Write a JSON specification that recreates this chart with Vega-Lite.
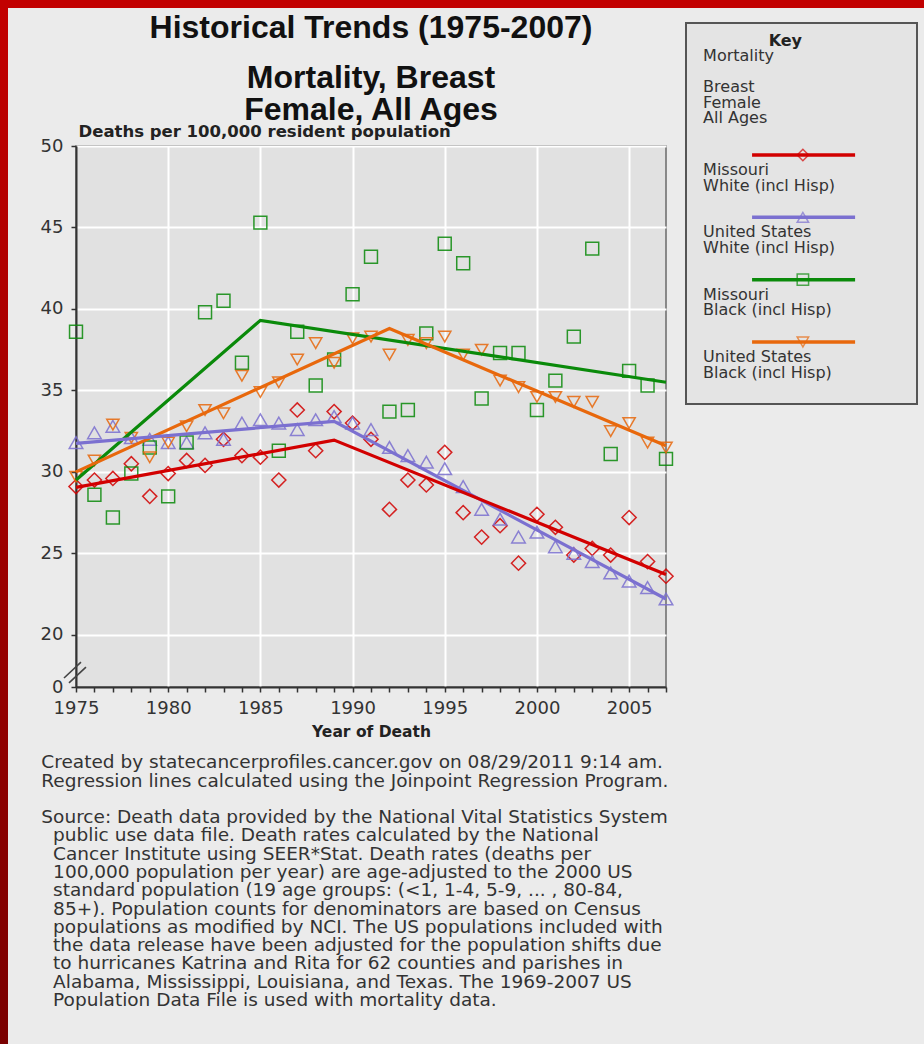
{
  "$schema": "https://vega.github.io/schema/vega-lite/v6.json",
  "background": "#ebebeb",
  "padding": 0,
  "spacing": 0,
  "config": {
    "font": "DejaVu Sans",
    "view": {"stroke": null},
    "axis": {
      "domainColor": "#333333", "domainWidth": 2,
      "tickColor": "#333333", "tickWidth": 1.5, "tickSize": 5,
      "labelColor": "#333333", "labelFont": "DejaVu Sans", "labelFontSize": 18,
      "gridColor": "#ffffff", "gridWidth": 2,
      "titleFont": "DejaVu Sans", "titleFontWeight": "bold", "titleColor": "#222222"
    }
  },
  "datasets": {
    "rates": [
      {"year": 1975, "MW": 29.1, "UW": 31.8, "MB": 38.6, "UB": 29.7},
      {"year": 1976, "MW": 29.5, "UW": 32.4, "MB": 28.6, "UB": 30.7},
      {"year": 1977, "MW": 29.6, "UW": 32.8, "MB": 27.2, "UB": 32.9},
      {"year": 1978, "MW": 30.5, "UW": 32.1, "MB": 29.9, "UB": 32.1},
      {"year": 1979, "MW": 28.5, "UW": 32.0, "MB": 31.5, "UB": 30.9},
      {"year": 1980, "MW": 29.9, "UW": 31.8, "MB": 28.5, "UB": 31.8},
      {"year": 1981, "MW": 30.7, "UW": 31.8, "MB": 31.8, "UB": 32.8},
      {"year": 1982, "MW": 30.4, "UW": 32.4, "MB": 39.8, "UB": 33.8},
      {"year": 1983, "MW": 32.0, "UW": 32.0, "MB": 40.5, "UB": 33.6},
      {"year": 1984, "MW": 31.0, "UW": 33.0, "MB": 36.7, "UB": 35.9},
      {"year": 1985, "MW": 30.9, "UW": 33.2, "MB": 45.3, "UB": 34.9},
      {"year": 1986, "MW": 29.5, "UW": 33.0, "MB": 31.3, "UB": 35.5},
      {"year": 1987, "MW": 33.8, "UW": 32.6, "MB": 38.6, "UB": 36.9},
      {"year": 1988, "MW": 31.3, "UW": 33.2, "MB": 35.3, "UB": 37.9},
      {"year": 1989, "MW": 33.7, "UW": 33.4, "MB": 36.9, "UB": 36.7},
      {"year": 1990, "MW": 33.0, "UW": 33.0, "MB": 40.9, "UB": 38.2},
      {"year": 1991, "MW": 32.0, "UW": 32.6, "MB": 43.2, "UB": 38.3},
      {"year": 1992, "MW": 27.7, "UW": 31.5, "MB": 33.7, "UB": 37.2},
      {"year": 1993, "MW": 29.5, "UW": 31.0, "MB": 33.8, "UB": 38.1},
      {"year": 1994, "MW": 29.2, "UW": 30.6, "MB": 38.5, "UB": 37.9},
      {"year": 1995, "MW": 31.2, "UW": 30.2, "MB": 44.0, "UB": 38.3},
      {"year": 1996, "MW": 27.5, "UW": 29.1, "MB": 42.8, "UB": 37.2},
      {"year": 1997, "MW": 26.0, "UW": 27.7, "MB": 34.5, "UB": 37.5},
      {"year": 1998, "MW": 26.7, "UW": 27.1, "MB": 37.3, "UB": 35.6},
      {"year": 1999, "MW": 24.4, "UW": 26.0, "MB": 37.3, "UB": 35.2},
      {"year": 2000, "MW": 27.4, "UW": 26.3, "MB": 33.8, "UB": 34.6},
      {"year": 2001, "MW": 26.6, "UW": 25.4, "MB": 35.6, "UB": 34.6},
      {"year": 2002, "MW": 24.9, "UW": 25.0, "MB": 38.3, "UB": 34.3},
      {"year": 2003, "MW": 25.3, "UW": 24.5, "MB": 43.7, "UB": 34.3},
      {"year": 2004, "MW": 24.9, "UW": 23.8, "MB": 31.1, "UB": 32.5},
      {"year": 2005, "MW": 27.2, "UW": 23.3, "MB": 36.2, "UB": 33.0},
      {"year": 2006, "MW": 24.5, "UW": 22.9, "MB": 35.3, "UB": 31.8},
      {"year": 2007, "MW": 23.6, "UW": 22.2, "MB": 30.8, "UB": 31.5}
    ],
    "fits": [
      {"series": "MB", "year": 1975, "rate": 29.5},
      {"series": "MB", "year": 1985, "rate": 39.3},
      {"series": "MB", "year": 2007, "rate": 35.5},
      {"series": "UB", "year": 1975, "rate": 30.0},
      {"series": "UB", "year": 1992, "rate": 38.8},
      {"series": "UB", "year": 2007, "rate": 31.6},
      {"series": "UW", "year": 1975, "rate": 31.75},
      {"series": "UW", "year": 1989, "rate": 33.1},
      {"series": "UW", "year": 2007, "rate": 22.2},
      {"series": "MW", "year": 1975, "rate": 29.05},
      {"series": "MW", "year": 1989, "rate": 31.95},
      {"series": "MW", "year": 2007, "rate": 23.7}
    ],
    "legend": [
      {"series": "MW", "label": "Missouri\nWhite (incl Hisp)"},
      {"series": "UW", "label": "United States\nWhite (incl Hisp)"},
      {"series": "MB", "label": "Missouri\nBlack (incl Hisp)"},
      {"series": "UB", "label": "United States\nBlack (incl Hisp)"}
    ]
  },
  "vconcat": [
    {
      "width": 924, "height": 8,
      "view": {"fill": "#c20000", "stroke": null},
      "data": {"values": [{}]},
      "mark": {"type": "text", "text": " ", "fontSize": 0},
      "encoding": {}
    },
    {
      "spacing": 31,
      "hconcat": [
        {
          "width": 8, "height": 1036,
          "view": {"fill": {"gradient": "linear", "x1": 0, "y1": 0, "x2": 0, "y2": 1, "stops": [{"offset": 0, "color": "#c20000"}, {"offset": 1, "color": "#7a0000"}]}, "stroke": null},
          "data": {"values": [{}]},
          "mark": {"type": "text", "text": " ", "fontSize": 0},
          "encoding": {}
        },
        {
          "spacing": 8,
          "title": {
            "text": [
              "Created by statecancerprofiles.cancer.gov on 08/29/2011 9:14 am.",
              "Regression lines calculated using the Joinpoint Regression Program."
            ],
            "subtitle": [
              "Source: Death data provided by the National Vital Statistics System",
              "\u200b\u2007public use data file. Death rates calculated by the National",
              "\u200b\u2007Cancer Institute using SEER*Stat. Death rates (deaths per",
              "\u200b\u2007100,000 population per year) are age-adjusted to the 2000 US",
              "\u200b\u2007standard population (19 age groups: (<1, 1-4, 5-9, ... , 80-84,",
              "\u200b\u200785+). Population counts for denominators are based on Census",
              "\u200b\u2007populations as modified by NCI. The US populations included with",
              "\u200b\u2007the data release have been adjusted for the population shifts due",
              "\u200b\u2007to hurricanes Katrina and Rita for 62 counties and parishes in",
              "\u200b\u2007Alabama, Mississippi, Louisiana, and Texas. The 1969-2007 US",
              "\u200b\u2007Population Data File is used with mortality data."
            ],
            "orient": "bottom", "anchor": "start", "dx": 2, "offset": 13,
            "font": "DejaVu Sans", "fontSize": 18.5, "fontWeight": "normal",
            "lineHeight": 18.3, "color": "#333333",
            "subtitleFont": "DejaVu Sans", "subtitleFontSize": 18.5, "subtitleFontWeight": "normal",
            "subtitleLineHeight": 18.3, "subtitleColor": "#333333", "subtitlePadding": 18
          },
          "hconcat": [
            {
              "spacing": -4,
              "vconcat": [
                {
                  "width": 590, "height": 1,
                  "view": {"fill": null, "stroke": null},
                  "data": {"values": [{}]},
                  "mark": {"type": "text", "text": " ", "fontSize": 0, "baseline": "top"},
                  "encoding": {},
                  "title": {
                    "text": "Historical Trends (1975-2007)",
                    "subtitle": ["Mortality, Breast", "Female, All Ages"],
                    "orient": "bottom", "anchor": "middle", "offset": 4,
                    "font": "Liberation Sans", "fontSize": 32, "fontWeight": "bold", "lineHeight": 32, "color": "#111111",
                    "subtitleFont": "Liberation Sans", "subtitleFontSize": 32, "subtitleFontWeight": "bold",
                    "subtitleLineHeight": 32, "subtitlePadding": 18, "subtitleColor": "#111111"
                  }
                },
                {
                  "width": 590, "height": 541,
                  "view": {"fill": "#e1e1e1", "stroke": "#6a6a6a", "strokeWidth": 1.5},
                  "layer": [
                    {
                      "data": {"name": "rates"},
                      "transform": [{"fold": ["MW", "UW", "MB", "UB"], "as": ["series", "rate"]}],
                      "mark": {"type": "point", "filled": false, "strokeWidth": 1.5, "opacity": 0.85},
                      "encoding": {
                        "x": {"field": "year", "type": "quantitative",
                          "scale": {"domain": [1975, 2007], "nice": false, "zero": false},
                          "axis": {"values": [1975, 1976, 1977, 1978, 1979, 1980, 1981, 1982, 1983, 1984, 1985, 1986, 1987, 1988, 1989, 1990, 1991, 1992, 1993, 1994, 1995, 1996, 1997, 1998, 1999, 2000, 2001, 2002, 2003, 2004, 2005, 2006, 2007], "format": "d", "labelExpr": "datum.value % 5 === 0 ? datum.label : ''", "labelFlush": false, "labelDx": 6, "labelPadding": 7, "gridOpacity": {"condition": {"test": "datum.value % 5 === 0 && datum.value > 1975", "value": 1}, "value": 0}, "title": "Year of Death", "titleFontSize": 15.5, "titlePadding": 7}},
                        "y": {"field": "rate", "type": "quantitative",
                          "scale": {"domain": [16.8, 50], "nice": false, "zero": false},
                          "axis": {"values": [16.8, 20, 25, 30, 35, 40, 45, 50], "labelExpr": "datum.value < 18 ? '0' : format(datum.value, 'd')", "labelPadding": 8, "gridOpacity": {"condition": {"test": "datum.value >= 20", "value": 1}, "value": 0}, "title": "Deaths per 100,000 resident population", "titleAngle": 0, "titleAlign": "left", "titleBaseline": "alphabetic", "titleX": 2, "titleY": -10, "titleFontSize": 16.5}},
                        "color": {"field": "series", "type": "nominal", "legend": null,
                          "scale": {"domain": ["MW", "UW", "MB", "UB"], "range": ["#d20000", "#7b70d0", "#0a8a0a", "#e8680c"]}},
                        "shape": {"field": "series", "type": "nominal", "legend": null,
                          "scale": {"domain": ["MW", "UW", "MB", "UB"], "range": ["diamond", "triangle-up", "square", "triangle-down"]}},
                        "size": {"field": "series", "type": "nominal", "legend": null,
                          "scale": {"domain": ["MW", "UW", "MB", "UB"], "range": [200, 150, 140, 150]}}
                      }
                    },
                    {
                      "data": {"name": "fits"},
                      "mark": {"type": "line", "strokeWidth": 3.2},
                      "encoding": {
                        "x": {"field": "year", "type": "quantitative",
                          "scale": {"domain": [1975, 2007], "nice": false, "zero": false},
                          "axis": {"values": [1975, 1976, 1977, 1978, 1979, 1980, 1981, 1982, 1983, 1984, 1985, 1986, 1987, 1988, 1989, 1990, 1991, 1992, 1993, 1994, 1995, 1996, 1997, 1998, 1999, 2000, 2001, 2002, 2003, 2004, 2005, 2006, 2007], "format": "d", "labelExpr": "datum.value % 5 === 0 ? datum.label : ''", "labelFlush": false, "labelDx": 6, "labelPadding": 7, "gridOpacity": {"condition": {"test": "datum.value % 5 === 0 && datum.value > 1975", "value": 1}, "value": 0}, "title": "Year of Death", "titleFontSize": 15.5, "titlePadding": 7}},
                        "y": {"field": "rate", "type": "quantitative",
                          "scale": {"domain": [16.8, 50], "nice": false, "zero": false},
                          "axis": {"values": [16.8, 20, 25, 30, 35, 40, 45, 50], "labelExpr": "datum.value < 18 ? '0' : format(datum.value, 'd')", "labelPadding": 8, "gridOpacity": {"condition": {"test": "datum.value >= 20", "value": 1}, "value": 0}, "title": "Deaths per 100,000 resident population", "titleAngle": 0, "titleAlign": "left", "titleBaseline": "alphabetic", "titleX": 2, "titleY": -10, "titleFontSize": 16.5}},
                        "color": {"field": "series", "type": "nominal", "legend": null,
                          "scale": {"domain": ["MW", "UW", "MB", "UB"], "range": ["#d20000", "#7b70d0", "#0a8a0a", "#e8680c"]}}
                      }
                    },
                    {
                      "data": {"values": [{"k": "a"}]},
                      "mark": {"type": "rule", "strokeWidth": 1.6, "color": "#444444"},
                      "encoding": {
                        "x": {"datum": 1974.35, "type": "quantitative",
                          "scale": {"domain": [1975, 2007], "nice": false, "zero": false},
                          "axis": {"values": [1975, 1976, 1977, 1978, 1979, 1980, 1981, 1982, 1983, 1984, 1985, 1986, 1987, 1988, 1989, 1990, 1991, 1992, 1993, 1994, 1995, 1996, 1997, 1998, 1999, 2000, 2001, 2002, 2003, 2004, 2005, 2006, 2007], "format": "d", "labelExpr": "datum.value % 5 === 0 ? datum.label : ''", "labelFlush": false, "labelDx": 6, "labelPadding": 7, "gridOpacity": {"condition": {"test": "datum.value % 5 === 0 && datum.value > 1975", "value": 1}, "value": 0}, "title": "Year of Death", "titleFontSize": 15.5, "titlePadding": 7}},
                        "x2": {"datum": 1975.27},
                        "y": {"datum": 17.35, "type": "quantitative",
                          "scale": {"domain": [16.8, 50], "nice": false, "zero": false},
                          "axis": {"values": [16.8, 20, 25, 30, 35, 40, 45, 50], "labelExpr": "datum.value < 18 ? '0' : format(datum.value, 'd')", "labelPadding": 8, "gridOpacity": {"condition": {"test": "datum.value >= 20", "value": 1}, "value": 0}, "title": "Deaths per 100,000 resident population", "titleAngle": 0, "titleAlign": "left", "titleBaseline": "alphabetic", "titleX": 2, "titleY": -10, "titleFontSize": 16.5}},
                        "y2": {"datum": 18.33}
                      }
                    },
                    {
                      "data": {"values": [{"k": "b"}]},
                      "mark": {"type": "rule", "strokeWidth": 1.6, "color": "#444444"},
                      "encoding": {
                        "x": {"datum": 1974.62, "type": "quantitative",
                          "scale": {"domain": [1975, 2007], "nice": false, "zero": false},
                          "axis": {"values": [1975, 1976, 1977, 1978, 1979, 1980, 1981, 1982, 1983, 1984, 1985, 1986, 1987, 1988, 1989, 1990, 1991, 1992, 1993, 1994, 1995, 1996, 1997, 1998, 1999, 2000, 2001, 2002, 2003, 2004, 2005, 2006, 2007], "format": "d", "labelExpr": "datum.value % 5 === 0 ? datum.label : ''", "labelFlush": false, "labelDx": 6, "labelPadding": 7, "gridOpacity": {"condition": {"test": "datum.value % 5 === 0 && datum.value > 1975", "value": 1}, "value": 0}, "title": "Year of Death", "titleFontSize": 15.5, "titlePadding": 7}},
                        "x2": {"datum": 1975.54},
                        "y": {"datum": 17.05, "type": "quantitative",
                          "scale": {"domain": [16.8, 50], "nice": false, "zero": false},
                          "axis": {"values": [16.8, 20, 25, 30, 35, 40, 45, 50], "labelExpr": "datum.value < 18 ? '0' : format(datum.value, 'd')", "labelPadding": 8, "gridOpacity": {"condition": {"test": "datum.value >= 20", "value": 1}, "value": 0}, "title": "Deaths per 100,000 resident population", "titleAngle": 0, "titleAlign": "left", "titleBaseline": "alphabetic", "titleX": 2, "titleY": -10, "titleFontSize": 16.5}},
                        "y2": {"datum": 18.02}
                      }
                    }
                  ]
                }
              ]
            },
            {
              "spacing": 0,
              "vconcat": [
                {
                  "width": 231, "height": 14,
                  "view": {"fill": null, "stroke": null},
                  "data": {"values": [{}]},
                  "mark": {"type": "text", "text": " ", "fontSize": 0},
                  "encoding": {}
                },
                {
                  "width": 231, "height": 381,
                  "view": {"fill": "#e4e4e4", "stroke": "#555555", "strokeWidth": 2},
                  "data": {"name": "legend"},
                  "encoding": {
                    "y": {"field": "series", "type": "nominal",
                      "scale": {"type": "point", "domain": ["MW", "UW", "MB", "UB"], "range": [132, 319], "padding": 0},
                      "axis": null}
                  },
                  "layer": [
                    {
                      "mark": {"type": "rule", "strokeWidth": 3.5},
                      "encoding": {
                        "x": {"datum": 0.286, "type": "quantitative", "scale": {"domain": [0, 1]}, "axis": null},
                        "x2": {"datum": 0.732},
                        "color": {"field": "series", "type": "nominal", "legend": null,
                          "scale": {"domain": ["MW", "UW", "MB", "UB"], "range": ["#d20000", "#7b70d0", "#0a8a0a", "#e8680c"]}}
                      }
                    },
                    {
                      "mark": {"type": "point", "filled": false, "strokeWidth": 1.5, "size": 130},
                      "encoding": {
                        "x": {"datum": 0.506, "type": "quantitative", "scale": {"domain": [0, 1]}, "axis": null},
                        "color": {"field": "series", "type": "nominal", "legend": null,
                          "scale": {"domain": ["MW", "UW", "MB", "UB"], "range": ["#d20000", "#7b70d0", "#0a8a0a", "#e8680c"]}},
                        "shape": {"field": "series", "type": "nominal", "legend": null,
                          "scale": {"domain": ["MW", "UW", "MB", "UB"], "range": ["diamond", "triangle-up", "square", "triangle-down"]}}
                      }
                    },
                    {
                      "mark": {"type": "text", "align": "left", "baseline": "top", "dy": 7, "lineBreak": "\n", "lineHeight": 15.5, "fontSize": 16, "color": "#333333"},
                      "encoding": {
                        "x": {"datum": 0.074, "type": "quantitative", "scale": {"domain": [0, 1]}, "axis": null},
                        "text": {"field": "label"}
                      }
                    },
                    {
                      "data": {"values": [{"t": "Key"}]},
                      "mark": {"type": "text", "align": "center", "baseline": "middle", "dy": -114, "fontSize": 16, "fontWeight": "bold", "color": "#222222"},
                      "encoding": {
                        "x": {"datum": 0.43, "type": "quantitative", "scale": {"domain": [0, 1]}, "axis": null},
                        "y": {"datum": "MW"},
                        "text": {"field": "t"}
                      }
                    },
                    {
                      "data": {"values": [{"t": "Mortality\n\u200b\nBreast\nFemale\nAll Ages"}]},
                      "mark": {"type": "text", "align": "left", "baseline": "middle", "dy": -99, "lineBreak": "\n", "lineHeight": 15.5, "fontSize": 16, "color": "#333333"},
                      "encoding": {
                        "x": {"datum": 0.074, "type": "quantitative", "scale": {"domain": [0, 1]}, "axis": null},
                        "y": {"datum": "MW"},
                        "text": {"field": "t"}
                      }
                    }
                  ]
                }
              ]
            }
          ]
        }
      ]
    }
  ]
}
